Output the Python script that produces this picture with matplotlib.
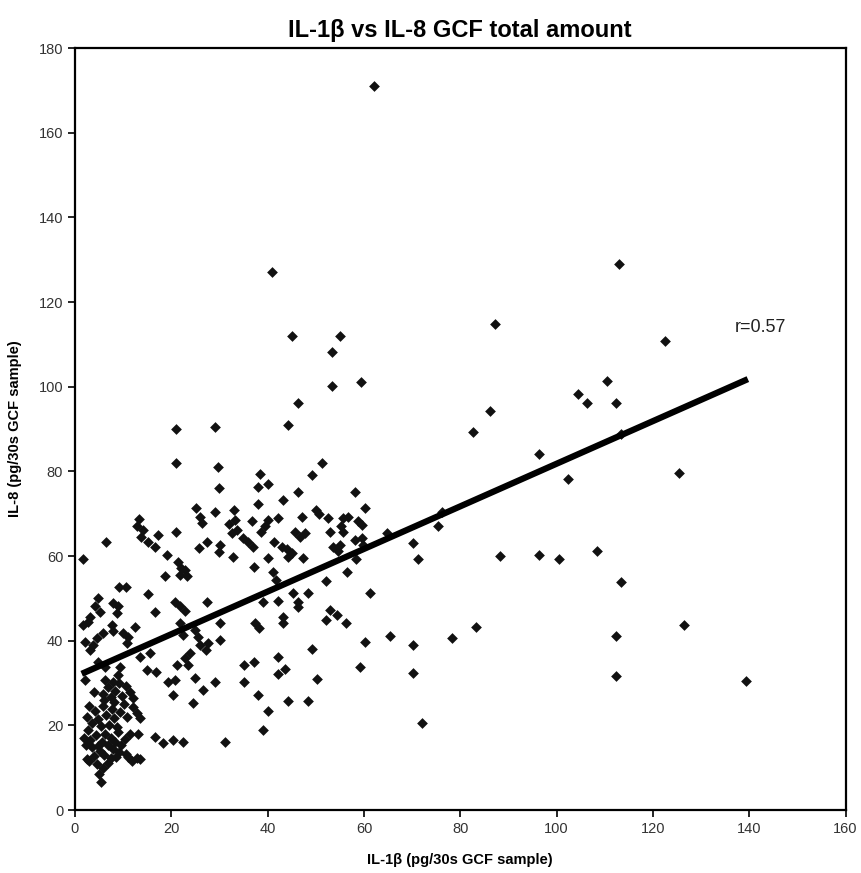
import matplotlib
matplotlib.use("Agg")
import matplotlib.pyplot as plt

plt.rcParams['font.family'] = ['Liberation Sans', 'DejaVu Sans']

# IL-1beta (x) and IL-8 (y) per GCF sample, grouped by region
# dense lower-left cluster
il1b_a = [5.5, 5.0, 5.8, 4.5, 6.8, 3.0, 2.4, 7.5, 4.0, 6.0, 8.5, 11.0, 11.8, 12.8, 13.6, 10.5, 5.2, 9.2,
          1.8, 2.2, 3.2, 3.6, 4.3, 4.8, 5.6, 6.2, 6.8, 7.4, 7.8, 8.4, 9.0, 9.6, 10.4, 11.5, 2.8, 13.1,
          16.6, 18.3, 20.4, 22.5, 31.1, 2.5, 3.5, 4.2, 4.8, 5.5, 5.8, 6.5, 7.0, 7.6, 8.2, 8.8, 9.4,
          10.2, 10.8, 12.1, 12.8, 13.5, 3.0, 6.0, 5.8, 6.8, 7.5, 8.4, 9.2, 9.8, 10.6, 11.5, 12.0, 8.0, 4.0]
il8_a = [6.7, 8.5, 10.0, 10.8, 11.2, 11.5, 12.0, 12.2, 12.8, 13.0, 12.5, 12.5, 11.6, 12.2, 12.0, 13.3, 14.0, 13.8,
         17.0, 15.5, 16.5, 14.8, 17.8, 15.2, 16.2, 18.0, 15.5, 17.0, 14.5, 16.2, 18.5, 15.4, 16.8, 18.0, 19.0, 18.1,
         17.3, 15.8, 16.5, 16.1, 16.1, 22.0, 20.5, 23.5, 21.5, 19.8, 24.5, 22.5, 20.2, 24.0, 21.8, 19.6, 23.2,
         25.0, 22.0, 24.4, 22.9, 21.7, 24.6, 26.0, 27.5, 29.0, 26.8, 28.2, 30.0, 27.0, 29.4, 27.8, 26.5, 25.5, 28.0]

# low x, mid y
il1b_b = [2.1, 6.2, 7.9, 9.0, 9.3, 4.8, 6.2, 13.5, 15.6, 14.9, 16.9, 2.1, 3.8, 4.5, 3.1, 5.9, 7.9, 10.0,
          11.1, 10.7, 1.7, 2.8, 7.6, 12.4, 5.2, 4.1, 4.8, 7.9, 9.0, 8.7, 9.2, 10.6, 15.1, 16.6, 3.1,
          20.7, 21.8, 22.8, 27.4, 21.8, 22.5, 24.9, 25.6, 25.9, 27.3, 27.7, 30.1, 30.1, 23.9, 22.8, 23.5,
          21.1, 24.9, 19.4, 20.7, 29.0, 20.4, 26.6, 24.5]
il8_b = [30.7, 30.7, 30.3, 31.9, 33.9, 35.1, 33.9, 36.2, 37.0, 33.1, 32.7, 39.6, 39.0, 40.6, 37.8, 41.8, 42.2, 41.8,
         41.0, 39.4, 43.7, 44.5, 43.7, 43.3, 46.9, 48.1, 50.0, 48.9, 48.1, 46.5, 52.6, 52.6, 51.1, 46.9, 45.7,
         49.2, 48.1, 47.1, 49.2, 44.1, 41.4, 42.6, 41.0, 39.0, 37.8, 39.4, 44.1, 40.2, 37.0, 35.9, 34.3,
         34.3, 31.1, 30.3, 30.7, 30.3, 27.2, 28.4, 25.2]

# middle x, low and mid y
il1b_c = [35.1, 37.2, 42.2, 42.2, 43.6, 35.1, 50.3, 59.1, 38.0, 44.3, 48.3, 40.1, 39.1, 49.2, 60.3, 37.3,
          38.2, 43.2, 43.2, 52.9, 54.3, 52.1, 56.2, 65.4, 70.2, 70.2, 72.0, 45.3, 46.3, 46.3, 48.4, 39.1,
          42.2, 61.2]
il8_c = [34.3, 35.1, 36.2, 32.2, 33.3, 30.2, 30.9, 33.7, 27.3, 25.8, 25.8, 23.5, 18.9, 38.1, 39.6, 44.1,
         43.0, 45.7, 44.1, 47.3, 46.1, 44.9, 44.1, 41.1, 39.0, 32.5, 20.5, 51.4, 49.2, 47.9, 51.2, 49.2,
         49.5, 51.2]

# low x, upper y
il1b_d = [21.0, 29.7, 29.9, 25.1, 25.9, 26.3, 29.0, 13.3, 12.8, 14.2, 13.8, 15.2, 17.3, 16.6, 21.0, 6.4,
          27.4, 25.8, 29.8, 30.1, 1.6, 19.1, 21.4, 22.1, 22.8, 21.8, 23.2, 18.7, 33.0, 32.0, 33.2, 33.6,
          32.6, 32.8, 21.0, 29.0, 34.8]
il8_d = [82.0, 81.0, 76.2, 71.3, 69.3, 67.8, 70.5, 68.8, 67.1, 66.2, 64.6, 63.4, 65.0, 62.1, 65.6, 63.4,
         63.4, 61.9, 60.9, 62.6, 59.3, 60.3, 58.7, 57.1, 56.7, 55.6, 55.2, 55.2, 70.9, 67.5, 68.6, 66.2,
         65.5, 59.7, 90.0, 90.5, 64.3]

# middle x, upper y
il1b_e = [38.5, 38.1, 40.1, 43.2, 38.1, 46.2, 58.2, 49.2, 51.2, 50.0, 50.6, 47.1, 52.6, 60.2, 42.2, 40.1,
          39.4, 38.7, 36.7, 55.7, 56.7, 58.8, 59.5, 55.3, 55.7, 52.9, 45.6, 46.8, 47.8, 36.0, 37.0, 41.4,
          42.9, 44.0, 45.0, 44.3, 47.4, 53.6, 55.0, 54.6, 58.1, 40.1, 56.4, 37.2, 41.1, 58.4, 41.8, 52.2,
          59.5, 59.8, 64.7, 70.2, 71.2]
il8_e = [79.5, 76.4, 77.1, 73.3, 72.3, 75.2, 75.2, 79.2, 82.1, 70.9, 70.0, 69.3, 69.0, 71.3, 69.0, 68.6,
         67.0, 65.8, 68.2, 69.0, 69.3, 68.2, 67.4, 67.0, 65.8, 65.8, 65.8, 64.6, 65.4, 63.4, 62.1, 63.3,
         62.2, 61.6, 60.8, 59.8, 59.5, 62.2, 62.6, 61.1, 63.8, 59.5, 56.3, 57.5, 56.3, 59.2, 54.4, 54.2,
         64.2, 62.6, 65.4, 63.2, 59.3]

# sparse high values and right side
il1b_f = [53.3, 53.3, 59.3, 46.2, 44.3, 41.0, 45.0, 55.0, 62.0, 113.0, 87.3, 122.5, 110.4, 104.4, 106.4,
          112.4, 86.2, 82.7, 113.3, 96.3, 125.4, 102.3, 76.3, 75.4, 88.3, 96.3, 100.4, 108.4, 113.3, 83.3,
          78.3, 112.4, 126.4, 112.4, 139.4]
il8_f = [108.2, 100.1, 101.2, 96.2, 90.9, 127.0, 112.0, 112.0, 171.0, 129.0, 114.8, 110.7, 101.3, 98.3, 96.2,
         96.2, 94.2, 89.2, 88.8, 84.2, 79.7, 78.1, 70.5, 67.1, 60.0, 60.2, 59.2, 61.2, 53.8, 43.2,
         40.7, 41.1, 43.7, 31.7, 30.6]

il1b = il1b_a + il1b_b + il1b_c + il1b_d + il1b_e + il1b_f
il8 = il8_a + il8_b + il8_c + il8_d + il8_e + il8_f

# regression line end points as drawn
trend_x = [1.4, 139.7]
trend_y = [32.2, 101.8]
r_text = "r=0.57"

fig = plt.figure(figsize=(8.62, 8.73), dpi=100)
ax = fig.add_axes([0.087, 0.072, 0.894, 0.873])

ax.scatter(il1b, il8, marker='D', s=30, color='#111111', linewidths=0, zorder=3)
ax.plot(trend_x, trend_y, color='black', linewidth=4.5, solid_capstyle='butt', zorder=4)
ax.text(137, 114, r_text, fontsize=13, va='center', ha='left', color='#222222')

ax.set_xlim(0, 160)
ax.set_ylim(0, 180)
ax.set_xticks(range(0, 161, 20))
ax.set_yticks(range(0, 181, 20))
ax.tick_params(direction='out', length=5, width=1.2, labelsize=10.5, labelcolor='#333333')
for sp in ax.spines.values():
    sp.set_linewidth(1.6)

ax.set_title("IL-1β vs IL-8 GCF total amount", fontsize=17, fontweight='bold', pad=8)
ax.set_xlabel("IL-1β (pg/30s GCF sample)", fontsize=10.5, fontweight='bold', labelpad=12)
ax.set_ylabel("IL-8 (pg/30s GCF sample)", fontsize=10.5, fontweight='bold', labelpad=12)

fig.savefig("out.png", dpi=100)
